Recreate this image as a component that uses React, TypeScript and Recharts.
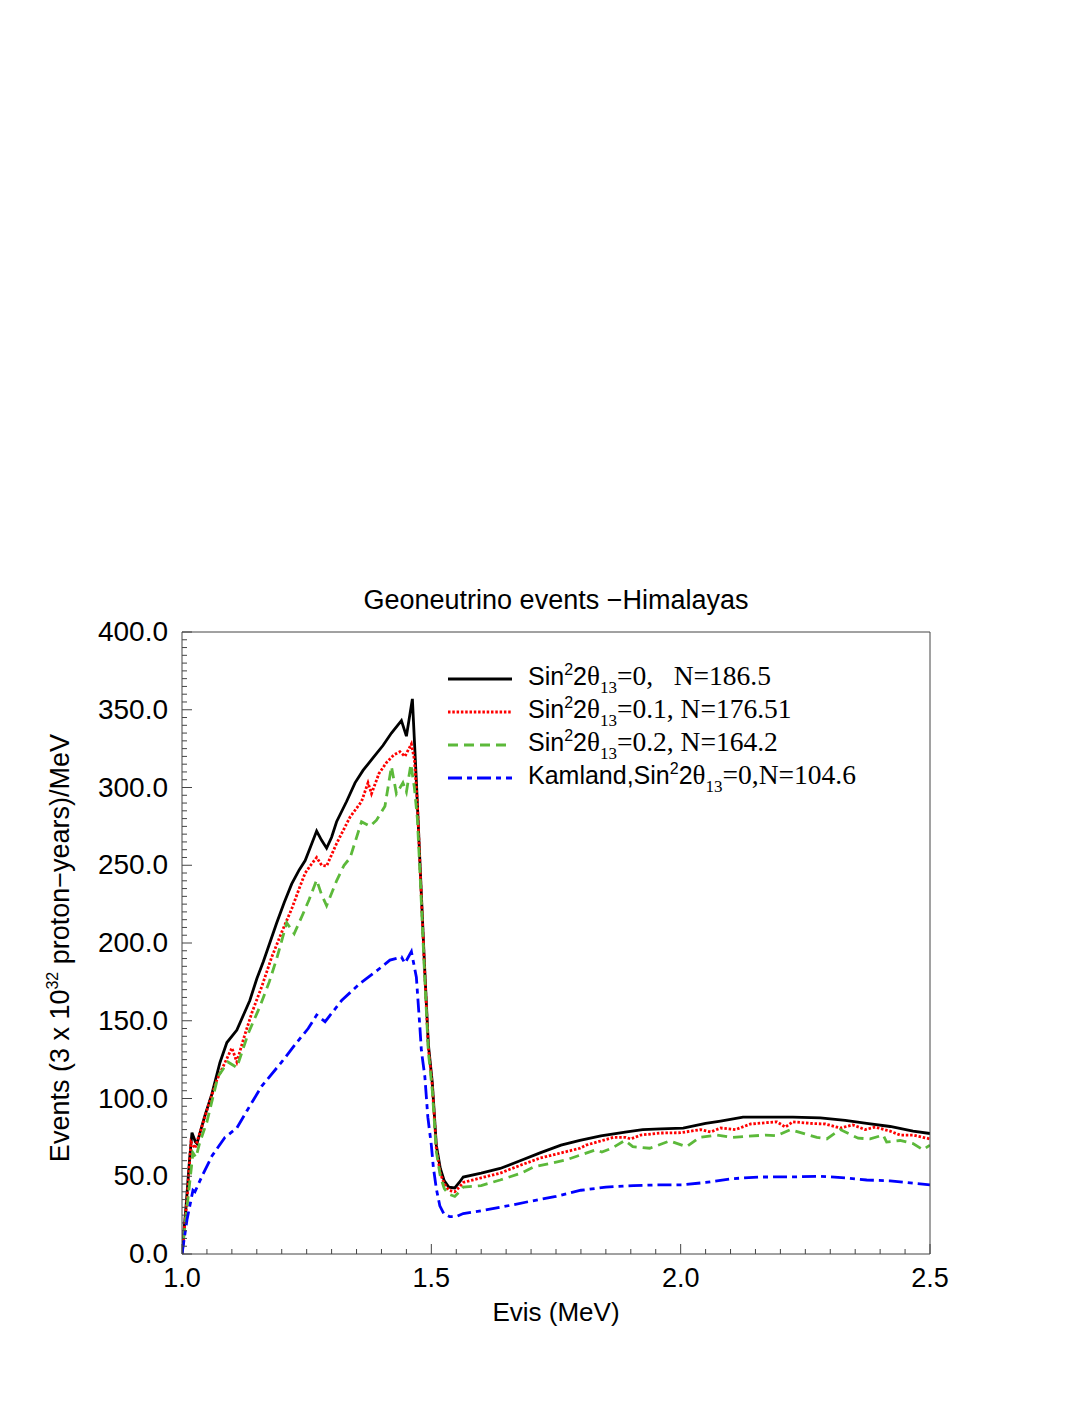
import React from "react";
import { LineChart, Line, XAxis, YAxis } from "recharts";

// Evis (MeV), events per MeV
const SIN2_0: [number, number][] = [
  [1.0, 0], [1.008, 30], [1.015, 60], [1.02, 78], [1.027, 72], [1.03, 71], [1.045, 88], [1.06, 103],
  [1.076, 123], [1.09, 136], [1.11, 144], [1.125, 155], [1.136, 163], [1.15, 177], [1.163, 188],
  [1.176, 200], [1.19, 213], [1.205, 226], [1.22, 238], [1.235, 247], [1.247, 253], [1.258, 262],
  [1.27, 272], [1.28, 266], [1.29, 261], [1.3, 268], [1.31, 278], [1.33, 291], [1.347, 303],
  [1.363, 311], [1.383, 319], [1.403, 327], [1.42, 335], [1.44, 343], [1.45, 333], [1.462, 357],
  [1.47, 304], [1.478, 246], [1.486, 188], [1.494, 135], [1.502, 110], [1.51, 70], [1.518, 55],
  [1.526, 47], [1.535, 43], [1.547, 42.5], [1.556, 46], [1.564, 49.5], [1.6, 52], [1.638, 55],
  [1.678, 60], [1.718, 65], [1.76, 70], [1.798, 73], [1.84, 76], [1.892, 78.5], [1.924, 80],
  [1.96, 80.5], [2.005, 81], [2.05, 84], [2.08, 85.5], [2.125, 88], [2.18, 88], [2.225, 88],
  [2.28, 87.5], [2.33, 86], [2.373, 84], [2.42, 82], [2.466, 79], [2.5, 77.5],
];

const SIN2_01: [number, number][] = [
  [1.0, 0], [1.01, 35], [1.018, 72], [1.026, 68], [1.04, 82], [1.052, 94.5], [1.07, 112], [1.086, 123],
  [1.1, 132.5], [1.11, 123.5], [1.125, 140], [1.14, 155], [1.16, 172], [1.18, 191], [1.2, 207],
  [1.22, 222], [1.235, 235], [1.247, 245], [1.258, 250], [1.27, 255], [1.28, 250], [1.29, 249.5],
  [1.31, 264], [1.337, 281], [1.36, 291], [1.373, 303], [1.38, 296], [1.395, 309], [1.41, 316],
  [1.425, 321], [1.437, 323], [1.447, 320], [1.46, 328], [1.466, 318], [1.472, 290], [1.478, 244],
  [1.486, 186], [1.494, 133], [1.502, 108], [1.51, 68], [1.518, 52], [1.526, 45], [1.535, 41],
  [1.547, 40], [1.556, 43], [1.564, 46], [1.6, 49], [1.638, 52], [1.678, 57], [1.718, 61.7],
  [1.76, 65], [1.798, 68], [1.81, 70], [1.84, 72.7], [1.865, 75], [1.89, 75], [1.9, 74], [1.92, 76.5],
  [1.96, 77.8], [2.0, 78], [2.04, 80], [2.06, 78.5], [2.08, 81], [2.11, 80], [2.14, 83.6], [2.193, 85],
  [2.21, 81.6], [2.225, 85], [2.26, 84], [2.29, 83.6], [2.32, 81], [2.345, 83], [2.37, 80],
  [2.39, 81.6], [2.42, 79], [2.44, 76.5], [2.466, 76.5], [2.5, 74],
];

const SIN2_02: [number, number][] = [
  [1.0, 0], [1.01, 30], [1.022, 65], [1.028, 62], [1.035, 71], [1.05, 85], [1.072, 114], [1.092, 123.5],
  [1.11, 120], [1.133, 142], [1.156, 159], [1.175, 175], [1.19, 190], [1.21, 213], [1.225, 206],
  [1.243, 219], [1.255, 228], [1.27, 240.5], [1.28, 231], [1.29, 224], [1.31, 240], [1.325, 250],
  [1.337, 254.7], [1.36, 278], [1.377, 275], [1.39, 279], [1.407, 288], [1.42, 313.5], [1.43, 296],
  [1.443, 303], [1.45, 297], [1.459, 315], [1.466, 300], [1.472, 280], [1.478, 240], [1.486, 183],
  [1.494, 130], [1.502, 105], [1.51, 66], [1.518, 50], [1.526, 42], [1.535, 38.5], [1.547, 37],
  [1.556, 40], [1.564, 43], [1.6, 44], [1.638, 47.6], [1.68, 52], [1.705, 56], [1.77, 60.5],
  [1.83, 67], [1.842, 65.6], [1.862, 68], [1.888, 73], [1.904, 69], [1.938, 68], [1.978, 72.7],
  [2.012, 69], [2.038, 75], [2.072, 76.5], [2.105, 75], [2.17, 76.5], [2.192, 76], [2.22, 80],
  [2.273, 75], [2.293, 74], [2.32, 80], [2.356, 74.5], [2.38, 74], [2.406, 76.5], [2.413, 72],
  [2.44, 73], [2.466, 71], [2.486, 67], [2.5, 70],
];

const KAMLAND: [number, number][] = [
  [1.0, 0], [1.01, 22], [1.022, 41], [1.026, 40], [1.04, 50], [1.06, 63], [1.086, 75], [1.11, 81],
  [1.13, 92], [1.16, 108], [1.2, 123.5], [1.23, 136], [1.253, 145], [1.27, 153.7], [1.287, 149.4],
  [1.32, 163], [1.357, 174], [1.39, 182], [1.417, 189], [1.44, 191], [1.447, 187], [1.46, 194.5],
  [1.47, 178], [1.477, 146], [1.48, 131], [1.487, 114], [1.493, 88], [1.5, 70], [1.504, 56],
  [1.51, 42], [1.517, 31], [1.525, 26], [1.537, 24], [1.55, 24], [1.564, 26], [1.604, 28],
  [1.638, 30], [1.7, 34], [1.75, 37], [1.8, 41], [1.85, 43], [1.905, 44], [1.95, 44.4],
  [2.005, 44.5], [2.05, 46], [2.105, 48.5], [2.16, 49.5], [2.225, 49.6], [2.28, 50], [2.33, 49],
  [2.373, 47.6], [2.42, 47], [2.466, 45.5], [2.5, 44.5],
];

const X_TICKS = Array.from({ length: 31 }, (_, i) => Math.round((1 + i * 0.05) * 100) / 100);
const Y_TICKS = Array.from({ length: 81 }, (_, i) => i * 5);

const W = 1082;
const H = 1402;
const SANS = '"Liberation Sans", Arial, Helvetica, sans-serif';
const SERIF = '"Liberation Serif", "Times New Roman", serif';
const TICK = "#444";

const toRows = (pts: [number, number][]) => pts.map(([x, y]) => ({ x, y }));

const isMajorX = (v: number) => Math.abs(v * 2 - Math.round(v * 2)) < 1e-6;
const isMajorY = (v: number) => v % 50 === 0;

function BottomTick({ x, y, payload }: any) {
  const major = isMajorX(payload.value);
  return (
    <g>
      <line x1={x} y1={y} x2={x} y2={y - (major ? 10 : 5)} stroke={TICK} />
      {major && (
        <text x={x} y={y + 33} textAnchor="middle" fontFamily={SANS} fontSize={27} fill="#000">
          {payload.value.toFixed(1)}
        </text>
      )}
    </g>
  );
}

function TopTick({ x, y, payload }: any) {
  const major = isMajorX(payload.value);
  return <line x1={x} y1={y} x2={x} y2={y + (major ? 10 : 5)} stroke={TICK} />;
}

function LeftTick({ x, y, payload }: any) {
  const major = isMajorY(payload.value);
  return (
    <g>
      <line x1={x} y1={y} x2={x + (major ? 10 : 5)} y2={y} stroke={TICK} />
      {major && (
        <text x={x - 14} y={y + 9} textAnchor="end" fontFamily={SANS} fontSize={28} fill="#000">
          {payload.value.toFixed(1)}
        </text>
      )}
    </g>
  );
}

function RightTick({ x, y, payload }: any) {
  const major = isMajorY(payload.value);
  return <line x1={x} y1={y} x2={x - (major ? 10 : 5)} y2={y} stroke={TICK} />;
}

const SERIES = [
  { key: "s0", data: SIN2_0, color: "#000000", dash: undefined, label: ["Sin", "=0,   N=186.5"] },
  { key: "s1", data: SIN2_01, color: "#ff0000", dash: "2.5 1.8", label: ["Sin", "=0.1, N=176.51"] },
  { key: "s2", data: SIN2_02, color: "#5cb93a", dash: "10 6", label: ["Sin", "=0.2, N=164.2"] },
  { key: "k", data: KAMLAND, color: "#0000ff", dash: "14 5 5 5", label: ["Kamland,Sin", "=0,N=104.6"] },
];

function LegendBox() {
  return (
    <div style={{ position: "absolute", left: 440, top: 655 }}>
      {SERIES.map((s, i) => (
        <div
          key={s.key}
          style={{ position: "absolute", left: 0, top: i * 33, height: 32, display: "flex", alignItems: "center", whiteSpace: "pre" }}
        >
          <svg width={64} height={6}>
            <line x1={0} y1={3} x2={64} y2={3} stroke={s.color} strokeWidth={2.8} strokeDasharray={s.dash} />
          </svg>
          <span style={{ marginLeft: 16, fontFamily: SANS, fontSize: 25, color: "#000" }}>
            {s.label[0]}
            <sup style={{ fontSize: 16, verticalAlign: "10px" }}>2</sup>2
            <span style={{ fontFamily: SERIF, fontSize: 27 }}>θ</span>
            <sub style={{ fontFamily: SERIF, fontSize: 17, verticalAlign: "-8px" }}>13</sub>
            <span style={{ fontFamily: SERIF, fontSize: 27.5 }}>{s.label[1]}</span>
          </span>
        </div>
      ))}
    </div>
  );
}

export default function App() {
  return (
    <div style={{ position: "relative", width: W, height: H, background: "#fff" }}>
      <LineChart width={W} height={H} margin={{ top: 623, right: 159, bottom: 116, left: 94 }}>
        <XAxis
          xAxisId="b"
          dataKey="x"
          type="number"
          domain={[1, 2.5]}
          ticks={X_TICKS}
          interval={0}
          allowDataOverflow
          height={40}
          tickSize={0}
          tickMargin={0}
          tickLine={false}
          axisLine={{ stroke: TICK }}
          tick={BottomTick}
        />
        <XAxis
          xAxisId="t"
          orientation="top"
          dataKey="x"
          type="number"
          domain={[1, 2.5]}
          ticks={X_TICKS}
          interval={0}
          height={1}
          tickSize={0}
          tickMargin={0}
          tickLine={false}
          axisLine={{ stroke: TICK }}
          tick={TopTick}
        />
        <YAxis
          yAxisId="l"
          type="number"
          domain={[0, 400]}
          ticks={Y_TICKS}
          interval={0}
          allowDataOverflow
          width={80}
          tickSize={0}
          tickMargin={0}
          tickLine={false}
          axisLine={{ stroke: TICK }}
          tick={LeftTick}
        />
        <YAxis
          yAxisId="r"
          orientation="right"
          type="number"
          domain={[0, 400]}
          ticks={Y_TICKS}
          interval={0}
          width={1}
          tickSize={0}
          tickMargin={0}
          tickLine={false}
          axisLine={{ stroke: TICK }}
          tick={RightTick}
        />
        {SERIES.map((s) => (
          <Line
            key={s.key}
            xAxisId="b"
            yAxisId="l"
            data={toRows(s.data)}
            dataKey="y"
            type="linear"
            stroke={s.color}
            strokeWidth={2.8}
            strokeDasharray={s.dash}
            dot={false}
            activeDot={false}
            isAnimationActive={false}
          />
        ))}
      </LineChart>

      <div
        style={{ position: "absolute", left: 548, top: 592, transform: "translate(-50%, -50%)", fontFamily: SANS, fontSize: 27, whiteSpace: "nowrap" }}
      >
        Geoneutrino events −Himalayas
      </div>
      <div
        style={{ position: "absolute", left: 548, top: 1304, transform: "translate(-50%, -50%)", fontFamily: SANS, fontSize: 26, whiteSpace: "nowrap" }}
      >
        Evis (MeV)
      </div>
      <div
        style={{ position: "absolute", left: 52, top: 940, transform: "translate(-50%, -50%) rotate(-90deg)", fontFamily: SANS, fontSize: 27, whiteSpace: "nowrap" }}
      >
        Events (3 x 10<sup style={{ fontSize: 16, verticalAlign: "11px" }}>32</sup> proton−years)/MeV
      </div>
      <LegendBox />
    </div>
  );
}
